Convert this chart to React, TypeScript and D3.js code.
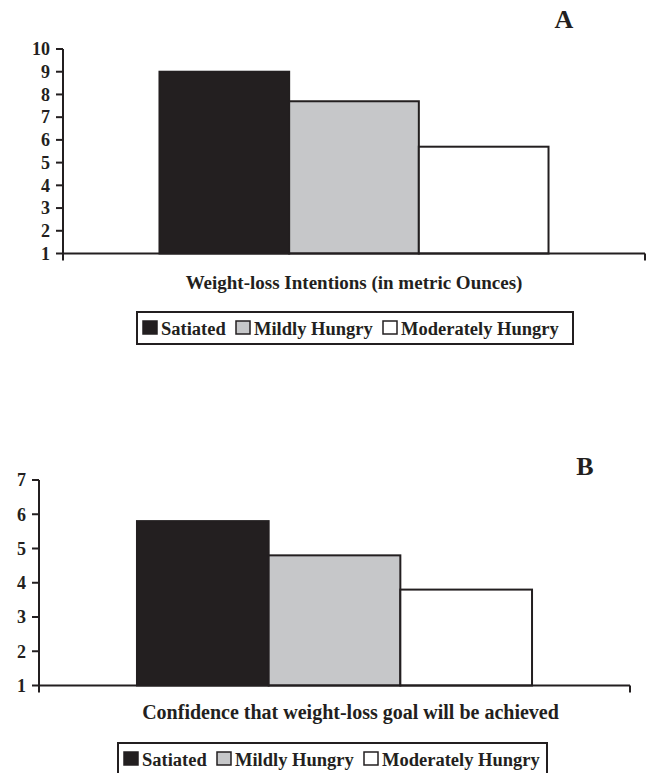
import React from "react";
import * as d3 from "d3";

const seriesNames = ["Satiated", "Mildly Hungry", "Moderately Hungry"];
const seriesFills = ["#231f20", "#c6c7c9", "#ffffff"];
const valuesA = [9.0, 7.7, 5.7];
const valuesB = [5.8, 4.8, 3.8];
const ticksA = [1, 2, 3, 4, 5, 6, 7, 8, 9, 10];
const ticksB = [1, 2, 3, 4, 5, 6, 7];
const titleA = "Weight-loss Intentions (in metric Ounces)";
const titleB = "Confidence that weight-loss goal will be achieved";

const INK = "#231f20";
const FONT = "'Liberation Serif', 'Times New Roman', serif";

type PanelProps = {
  values: number[];
  ticks: number[];
  x0: number;
  x1: number;
  yTop: number;
  yBot: number;
  title: string;
  titleY: number;
  titleSize: number;
  titleDx: number;
  letter: string;
  letterX: number;
  letterY: number;
  legendX: number;
  legendY: number;
  legendW: number;
  legendH: number;
};

function Panel(p: PanelProps) {
  const y = d3
    .scaleLinear()
    .domain([d3.min(p.ticks)!, d3.max(p.ticks)!])
    .range([p.yBot, p.yTop]);
  const outer = d3
    .scaleBand<string>()
    .domain(["g"])
    .range([p.x0, p.x1])
    .paddingInner(0)
    .paddingOuter(0.248);
  const inner = d3
    .scaleBand<string>()
    .domain(seriesNames)
    .range([outer("g")!, outer("g")! + outer.bandwidth()])
    .padding(0);
  const base = y(d3.min(p.ticks)!);

  const sw = 15;
  const itemOffsets = [6, 99, 246];
  return (
    <g>
      {p.values.map((v, i) => (
        <rect
          key={i}
          x={inner(seriesNames[i])!}
          y={y(v)}
          width={inner.bandwidth()}
          height={base - y(v)}
          fill={seriesFills[i]}
          stroke={INK}
          strokeWidth={2}
        />
      ))}
      <line x1={p.x0} x2={p.x0} y1={p.yTop} y2={base} stroke={INK} strokeWidth={2} />
      {p.ticks.map((t) => (
        <g key={t}>
          <line x1={p.x0 - 7} x2={p.x0} y1={y(t)} y2={y(t)} stroke={INK} strokeWidth={2} />
          <text
            x={p.x0 - 13}
            y={y(t)}
            dy="0.35em"
            textAnchor="end"
            fontFamily={FONT}
            fontWeight="bold"
            fontSize={18}
            fill={INK}
          >
            {t}
          </text>
        </g>
      ))}
      <line x1={p.x0} x2={p.x1} y1={base} y2={base} stroke={INK} strokeWidth={2} />
      <line x1={p.x0} x2={p.x0} y1={base} y2={base + 7} stroke={INK} strokeWidth={2} />
      <line x1={p.x1} x2={p.x1} y1={base} y2={base + 7} stroke={INK} strokeWidth={2} />
      <text
        x={outer("g")! + outer.bandwidth() / 2 + p.titleDx}
        y={p.titleY}
        textAnchor="middle"
        fontFamily={FONT}
        fontWeight="bold"
        fontSize={p.titleSize}
        fill={INK}
      >
        {p.title}
      </text>
      <text
        x={p.letterX}
        y={p.letterY}
        textAnchor="middle"
        fontFamily={FONT}
        fontWeight="bold"
        fontSize={26}
        fill={INK}
      >
        {p.letter}
      </text>
      <rect
        x={p.legendX}
        y={p.legendY}
        width={p.legendW}
        height={p.legendH}
        fill="#fff"
        stroke={INK}
        strokeWidth={2}
      />
      {seriesNames.map((s, i) => (
        <g key={s}>
          <rect
            x={p.legendX + itemOffsets[i]}
            y={p.legendY + 9}
            width={sw - 1}
            height={sw - 2}
            fill={seriesFills[i]}
            stroke={INK}
            strokeWidth={1.5}
          />
          <text
            x={p.legendX + itemOffsets[i] + sw + 3}
            y={p.legendY + 22.5}
            fontFamily={FONT}
            fontWeight="bold"
            fontSize={18.5}
            fill={INK}
          >
            {s}
          </text>
        </g>
      ))}
    </g>
  );
}

export default function App() {
  return (
    <svg
      width={651}
      height={773}
      style={{ position: "absolute", left: 0, top: 0, background: "#fff" }}
    >
      <rect width={651} height={773} fill="#fff" />
      <Panel
        values={valuesA}
        ticks={ticksA}
        x0={63}
        x1={645}
        yTop={49}
        yBot={253.5}
        title={titleA}
        titleY={289}
        titleSize={19}
        titleDx={0}
        letter="A"
        letterX={564}
        letterY={28}
        legendX={137}
        legendY={312}
        legendW={436}
        legendH={32}
      />
      <Panel
        values={valuesB}
        ticks={ticksB}
        x0={39}
        x1={630}
        yTop={480}
        yBot={685.5}
        title={titleB}
        titleY={719}
        titleSize={20}
        titleDx={16}
        letter="B"
        letterX={585}
        letterY={475}
        legendX={118}
        legendY={743}
        legendW={429}
        legendH={40}
      />
    </svg>
  );
}
